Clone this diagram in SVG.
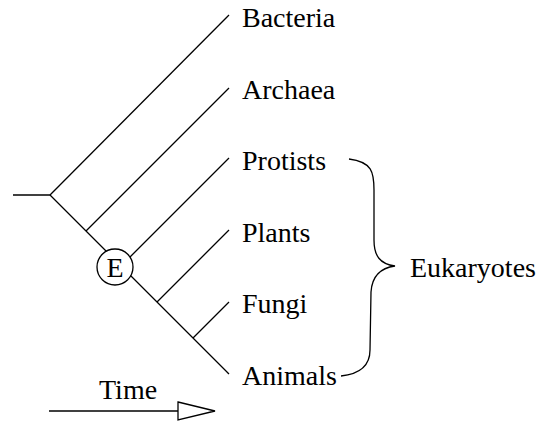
<svg xmlns="http://www.w3.org/2000/svg" width="538" height="421" viewBox="0 0 538 421">
<style>
.ln{stroke:#000;stroke-width:1.3;fill:none}
.lbl{font-family:"Liberation Serif","Times New Roman",serif;font-size:28px;fill:#000}
</style>
<rect width="538" height="421" fill="#fff"/>
<g id="connectors">
<line class="ln" x1="13" y1="195" x2="50" y2="195"/>
<line class="ln" x1="50" y1="195" x2="229" y2="15"/>
<line class="ln" x1="50" y1="195" x2="229" y2="374"/>
<line class="ln" x1="86" y1="231" x2="229" y2="88"/>
<line class="ln" x1="121" y1="266" x2="229" y2="158"/>
<line class="ln" x1="157" y1="302" x2="229" y2="230"/>
<line class="ln" x1="193" y1="338" x2="229" y2="302"/>
<path class="ln" d="M349,159 C372,162 374,172 374,190 L374,240 C374,256 380,264 395,266 C380,268 372,276 371,292 L370,350 C370,366 360,374 341,376"/>
</g>
<g id="node-E">
<circle cx="115" cy="267" r="18" fill="#fff" stroke="#000" stroke-width="1.3"/>
<text class="lbl" x="115" y="276.5" text-anchor="middle">E</text>
</g>
<g id="node-bacteria"><text class="lbl" x="242" y="27">Bacteria</text></g>
<g id="node-archaea"><text class="lbl" x="242" y="99">Archaea</text></g>
<g id="node-protists"><text class="lbl" x="242" y="170">Protists</text></g>
<g id="node-plants"><text class="lbl" x="242" y="242">Plants</text></g>
<g id="node-fungi"><text class="lbl" x="242" y="313">Fungi</text></g>
<g id="node-animals"><text class="lbl" x="242" y="385">Animals</text></g>
<g id="node-eukaryotes"><text class="lbl" x="410" y="277">Eukaryotes</text></g>
<g id="time">
<text class="lbl" x="99" y="399">Time</text>
<line class="ln" x1="49" y1="411" x2="178" y2="411"/>
<polygon points="178,402 215,411 178,420" fill="#fff" stroke="#000" stroke-width="1.3"/>
</g>
</svg>
